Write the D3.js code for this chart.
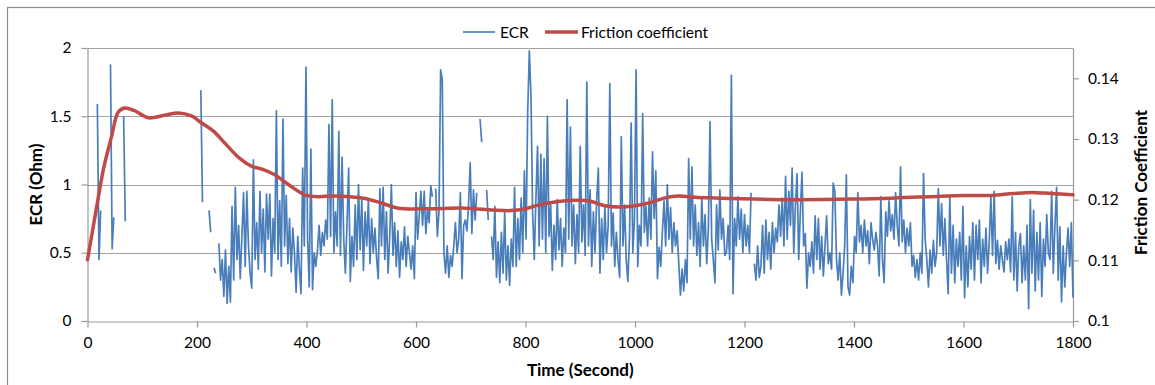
<!DOCTYPE html>
<html>
<head>
<meta charset="utf-8">
<script src="https://cdn.jsdelivr.net/npm/d3@7"></script>
<style>
  html, body { margin: 0; padding: 0; background: #fff; }
  svg { display: block; font-family: Lato, "Open Sans", sans-serif; }
</style>
</head>
<body>
<svg id="chart" width="1155" height="385"></svg>
<script>
// ECR sampled every 3 s from t = 0 s; null marks missing readings.
const ecrStepSeconds = 3;

const ecrRunIn = [ // 0 - 237 s
  null, null, null, null, null, null, 1.59, 0.45, 0.81, null,
  null, null, null, null, 1.88, 0.53, 0.76, null, null, null,
  null, null, 1.50, 0.73, null, null, null, null, null, null,
  null, null, null, null, null, null, null, null, null, null,
  null, null, null, null, null, null, null, null, null, null,
  null, null, null, null, null, null, null, null, null, null,
  null, null, null, null, null, null, null, null, null, 1.69,
  0.87, null, null, null, 0.81, 0.65, null, 0.39, 0.35, null
];

const ecr240to597 = [
  0.57, 0.30, 0.45, 0.18, 0.52, 0.13, 0.40, 0.14, 0.84, 0.30,
  0.98, 0.45, 0.70, 0.31, 0.62, 0.94, 0.40, 0.95, 0.55, 0.35,
  0.24, 1.18, 0.45, 0.72, 0.38, 0.95, 0.50, 0.82, 0.36, 0.93,
  0.60, 0.93, 0.33, 0.75, 0.50, 1.54, 0.45, 0.88, 0.40, 1.48,
  0.55, 0.92, 0.42, 0.75, 0.36, 0.68, 0.50, 0.21, 0.62, 0.38,
  0.20, 1.12, 0.55, 1.86, 0.60, 0.25, 1.26, 0.23, 0.50, 0.40,
  0.52, 0.70, 0.48, 0.65, 0.55, 0.74, 0.60, 1.44, 0.62, 1.62,
  0.50, 0.80, 0.55, 1.39, 0.48, 1.20, 0.60, 0.35, 0.72, 1.12,
  0.29, 0.62, 0.40, 0.85, 0.45, 1.00, 0.52, 0.90, 0.37, 0.80,
  0.55, 0.89, 0.42, 0.75, 0.50, 0.68, 0.46, 0.31, 0.97, 0.55,
  0.98, 0.45, 0.80, 0.35, 0.62, 1.00, 0.48, 0.72, 0.40, 0.66,
  0.32, 0.58, 0.45, 0.69, 0.40, 0.62, 0.50, 0.38, 0.55, 0.31
];

const ecr600to897 = [
  0.94, 0.60, 0.78, 0.95, 0.70, 0.95, 0.64, 0.82, 0.72, 0.99,
  0.91, null, 0.97, 0.62, 0.80, 1.84, 1.77, 0.50, 0.35, 0.55,
  0.32, 0.48, 0.40, 0.55, 0.72, 0.50, 0.60, 0.94, 0.31, 0.70,
  0.74, 0.66, 0.85, 1.16, 0.64, 0.96, 0.74, 0.94, null, 1.48,
  1.31, null, null, 0.96, 0.74, null, 0.62, 0.45, 0.84, 0.32,
  0.58, 0.28, 0.65, 0.35, 0.80, 0.30, 0.55, 0.26, 0.60, 0.40,
  0.98, 0.40, 0.75, 0.45, 0.90, 0.50, 1.10, 0.60, 1.53, 1.98,
  1.65, 0.80, 0.45, 0.90, 1.28, 0.55, 1.22, 0.60, 1.19, 0.50,
  1.50, 0.62, 0.85, 0.37, 0.70, 0.45, 0.89, 0.52, 0.75, 0.40,
  0.68, 0.50, 1.62, 0.60, 1.42, 0.55, 0.85, 0.42, 0.78, 0.50
];

const ecr900to1197 = [
  1.28, 0.58, 0.85, 0.48, 1.75, 0.55, 0.96, 0.40, 0.80, 0.50,
  0.88, 1.12, 0.35, 0.75, 0.45, 0.84, 0.50, 0.70, 1.74, 0.55,
  0.79, 0.40, 0.65, 0.45, 0.32, 1.35, 0.55, 0.85, 0.45, 0.29,
  0.62, 1.45, 0.50, 0.75, 1.84, 0.40, 0.70, 0.55, 1.52, 0.65,
  0.84, 0.55, 0.90, 0.60, 1.24, 0.75, 1.10, 0.31, 0.54, 0.40,
  0.65, 0.88, 0.55, 1.00, 0.60, 0.83, 0.50, 0.72, 0.55, 0.66,
  0.42, 0.19, 0.38, 0.22, 0.45, 0.28, 1.19, 0.60, 1.13, 0.55,
  0.85, 0.48, 0.72, 0.40, 0.90, 0.55, 0.78, 0.42, 0.68, 1.46,
  0.60, 0.45, 0.28, 0.85, 0.52, 0.96, 0.60, 0.75, 0.48, 0.50,
  0.70, 0.45, 1.80, 0.20, 0.75, 0.55, 0.91, 0.60, 0.82, 0.50
];

const ecr1200to1497 = [
  0.78, 0.55, 0.70, 0.50, 0.94, null, 0.42, 0.30, 0.55, 0.32,
  0.40, 0.70, 0.35, 0.74, 0.45, 0.65, 0.38, 0.72, 0.50, 0.68,
  0.58, 0.85, 0.62, 0.90, 0.55, 1.06, 0.60, 0.95, 0.70, 1.12,
  0.50, 0.85, 1.08, 0.45, 0.80, 1.09, 0.55, 0.64, 0.24, 0.50,
  0.40, 0.58, 0.35, 0.77, 0.45, 0.75, 0.38, 0.62, 0.33, 0.55,
  0.77, 0.42, 0.50, 0.38, 1.01, 0.95, 0.45, 0.30, 0.50, 0.19,
  0.35, 0.55, 1.07, 0.25, 0.19, 0.40, 0.28, 0.62, 0.50, 0.94,
  0.58, 0.70, 0.50, 0.74, 0.55, 0.66, 0.42, 0.72, 0.60, 0.52,
  0.65, 0.55, 0.33, 0.91, 0.45, 0.28, 0.80, 0.62, 0.88, 0.66,
  0.78, 0.60, 0.94, 0.70, 0.55, 1.13, 0.58, 0.74, 0.50, 0.68
];

const ecr1500to1800 = [
  0.55, 0.72, 0.40, 0.48, 0.32, 0.45, 0.30, 0.50, 0.35, 1.08,
  0.60, 0.45, 0.25, 0.52, 0.35, 0.59, 0.40, 0.50, 0.97, 0.55,
  0.86, 0.48, 0.75, 0.45, 0.20, 0.91, 0.35, 0.70, 0.28, 0.60,
  0.40, 0.65, 0.30, 0.84, 0.17, 0.55, 0.25, 0.62, 0.38, 0.72,
  0.30, 0.70, 0.45, 0.74, 0.28, 0.60, 0.40, 0.68, 0.35, 0.58,
  0.91, 0.48, 0.95, 0.42, 0.59, 0.38, 0.55, 0.45, 0.36, 0.58,
  0.45, 0.60, 0.36, 0.91, 0.30, 0.65, 0.22, 0.55, 0.64, 0.28,
  0.55, 0.30, 0.70, 0.09, 0.89, 0.35, 0.81, 0.22, 0.65, 0.30,
  0.72, 0.18, 0.60, 0.40, 0.78, 0.50, 0.45, 0.95, 0.35, 0.70,
  0.98, 0.30, 0.69, 0.14, 0.55, 0.25, 0.50, 0.68, 0.40, 0.72,
  0.17
];

// Friction coefficient (smoothed trend)
const frictionTime = [
  0, 10, 20, 30, 44, 56, 68, 85, 111, 140, 166, 190, 209, 230, 251, 278,
  300, 320, 342, 370, 397, 420, 446, 480, 507, 535, 568, 620, 690, 740,
  772, 800, 823, 860, 896, 920, 945, 970, 1000, 1027, 1055, 1079, 1110,
  1140, 1283, 1400, 1480, 1539, 1600, 1651, 1690, 1725, 1760, 1800
];
const frictionCoef = [
  0.1101, 0.1153, 0.1205, 0.1254, 0.1304, 0.1344, 0.1351, 0.1347, 0.1335, 0.1339, 0.1343, 0.1338, 0.1326, 0.1313, 0.1293, 0.1268,
  0.1255, 0.1250, 0.1241, 0.1223, 0.1208, 0.1205, 0.1206, 0.1205, 0.1202, 0.1195, 0.1186, 0.1185, 0.1186, 0.1183,
  0.1182, 0.1185, 0.1191, 0.1197, 0.1199, 0.1197, 0.1190, 0.1188, 0.1190, 0.1195, 0.1203, 0.1206, 0.1204,
  0.1203, 0.1200, 0.1201, 0.1203, 0.1205, 0.1207, 0.1207, 0.1210, 0.1212, 0.1210, 0.1208
];

const timeTicks = [0, 200, 400, 600, 800, 1000, 1200, 1400, 1600, 1800];
const ecrTicks = [0, 0.5, 1, 1.5, 2];
const frictionTicks = [0.1, 0.11, 0.12, 0.13, 0.14];

const seriesNames = ["ECR", "Friction coefficient"];
const axisTitles = { x: "Time (Second)", left: "ECR (Ohm)", right: "Friction Coefficient" };

// ---- build series ----
const ecrValues = [].concat(ecrRunIn, ecr240to597, ecr600to897, ecr900to1197, ecr1200to1497, ecr1500to1800);
const ecrData = ecrValues.map((v, i) => ({ t: i * ecrStepSeconds, v }));
const frictionData = frictionTime.map((t, i) => ({ t, v: frictionCoef[i] }));

// ---- layout ----
const plot = { left: 87.5, right: 1073, top: 48, bottom: 321 };
const colors = { ecr: "#4a7ebb", friction: "#be4b48", grid: "#a2a2a2", axis: "#9a9a9a", text: "#000" };
const tickFont = "15.5px";
const titleFont = "17px";

const svg = d3.select("#chart");

// chart frame
svg.append("rect")
  .attr("x", 7.5).attr("y", 7.5)
  .attr("width", 1160).attr("height", 390)
  .attr("fill", "#fff")
  .attr("stroke", "#8e8e8e").attr("stroke-width", 1.2);

const x = d3.scaleLinear().domain([0, 1800]).range([plot.left, plot.right]);
const yL = d3.scaleLinear().domain([0, 2]).range([plot.bottom, plot.top]);
const yR = d3.scaleLinear().domain([0.1, 0.145]).range([plot.bottom, plot.top]);

// horizontal gridlines
svg.append("g").selectAll("line")
  .data(ecrTicks.filter(d => d > 0))
  .join("line")
  .attr("x1", plot.left).attr("x2", plot.right)
  .attr("y1", d => Math.round(yL(d)) + 0.5).attr("y2", d => Math.round(yL(d)) + 0.5)
  .attr("stroke", colors.grid).attr("stroke-width", 1);

function styleAxis(g) {
  g.select(".domain").attr("stroke", colors.axis).attr("stroke-width", 1.2);
  g.selectAll(".tick line").attr("stroke", colors.axis).attr("stroke-width", 1.2);
  g.selectAll(".tick text")
    .attr("fill", colors.text)
    .style("font-size", tickFont)
    .style("font-family", "Lato, 'Open Sans', sans-serif");
}

const fmt = d3.format("");

svg.append("g")
  .attr("transform", `translate(0,${plot.bottom + 0.5})`)
  .call(d3.axisBottom(x).tickValues(timeTicks).tickFormat(fmt).tickSizeInner(6).tickSizeOuter(0).tickPadding(9))
  .call(styleAxis);

svg.append("g")
  .attr("transform", `translate(${plot.left},0)`)
  .call(d3.axisLeft(yL).tickValues(ecrTicks).tickFormat(fmt).tickSizeInner(6).tickSizeOuter(0).tickPadding(10))
  .call(styleAxis);

svg.append("g")
  .attr("transform", `translate(${plot.right},0)`)
  .call(d3.axisRight(yR).tickValues(frictionTicks).tickFormat(fmt).tickSizeInner(6).tickSizeOuter(0).tickPadding(9))
  .call(styleAxis);

// ECR trace
const ecrLine = d3.line()
  .defined(d => d.v !== null)
  .x(d => x(d.t))
  .y(d => yL(d.v));

svg.append("path")
  .datum(ecrData)
  .attr("d", ecrLine)
  .attr("fill", "none")
  .attr("stroke", colors.ecr)
  .attr("stroke-width", 1.7)
  .attr("stroke-linejoin", "round");

// friction coefficient trend
const frictionLine = d3.line()
  .curve(d3.curveCatmullRom.alpha(0.5))
  .x(d => x(d.t))
  .y(d => yR(d.v));

svg.append("path")
  .datum(frictionData)
  .attr("d", frictionLine)
  .attr("fill", "none")
  .attr("stroke", colors.friction)
  .attr("stroke-width", 3.5)
  .attr("stroke-linecap", "round")
  .attr("stroke-linejoin", "round");

// axis titles
svg.append("text")
  .attr("x", (plot.left + plot.right) / 2).attr("y", 376)
  .attr("text-anchor", "middle")
  .style("font-size", titleFont).style("font-weight", "bold")
  .attr("fill", colors.text)
  .text(axisTitles.x);

svg.append("text")
  .attr("transform", `translate(42,${(plot.top + plot.bottom) / 2}) rotate(-90)`)
  .attr("text-anchor", "middle")
  .style("font-size", titleFont).style("font-weight", "bold")
  .attr("fill", colors.text)
  .text(axisTitles.left);

svg.append("text")
  .attr("transform", `translate(1147,${(plot.top + plot.bottom) / 2 - 2}) rotate(-90)`)
  .attr("text-anchor", "middle")
  .style("font-size", titleFont).style("font-weight", "bold")
  .attr("fill", colors.text)
  .text(axisTitles.right);

// legend
const legend = svg.append("g").attr("transform", "translate(0,32)");
const legendItems = [
  { name: seriesNames[0], color: colors.ecr, width: 1.7, x0: 463, x1: 495, tx: 500 },
  { name: seriesNames[1], color: colors.friction, width: 3.5, x0: 545, x1: 578, tx: 581 }
];
legendItems.forEach(item => {
  legend.append("line")
    .attr("x1", item.x0).attr("x2", item.x1)
    .attr("y1", 0).attr("y2", 0)
    .attr("stroke", item.color).attr("stroke-width", item.width);
  legend.append("text")
    .attr("x", item.tx).attr("y", 0).attr("dy", "0.36em")
    .style("font-size", tickFont)
    .attr("fill", colors.text)
    .text(item.name);
});
</script>
</body>
</html>
